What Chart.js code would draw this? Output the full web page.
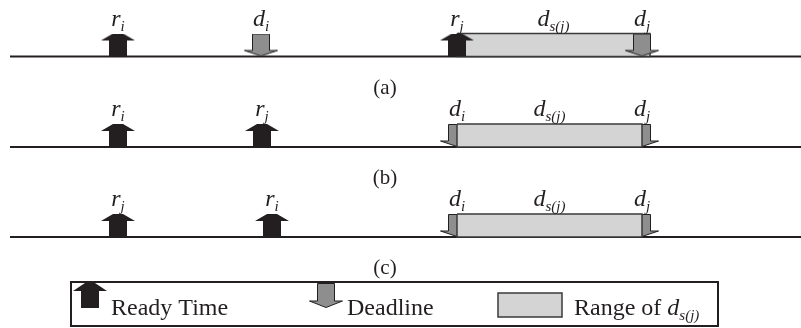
<!DOCTYPE html>
<html><head><meta charset="utf-8">
<script src="https://cdn.jsdelivr.net/npm/chart.js@4.4.0/dist/chart.umd.min.js"></script>
<style>html,body{margin:0;padding:0;background:#fff;overflow:hidden}canvas{display:block}</style>
</head><body>
<canvas id="c" width="801" height="328"></canvas>
<script>
// ---- data (time positions of events on each timeline) ----
const panelLabels = ['(a)', '(b)', '(c)'];
const riTime = [11.8, 11.8, 27.2];
const rjTime = [45.7, 26.2, 11.8];
const diTime = [26.1, 45.7, 45.7];
const djTime = [64.2, 64.2, 64.2];
const rangeStart = [45.7, 45.7, 45.7];
const rangeEnd = [65.0, 64.2, 64.2];
const legendLabels = ['Ready Time', 'Deadline', 'Range of '];

// ---- layout / style ----
const ROW_Y = [5.65, 14.7, 23.7];
const X_MAX = 80.1, Y_MAX = 32.8;
const AXIS_START = 1.0;
const ARROW_H = 2.3;
const INK = '#231f20';
const GRAY = '#8e8e8e';
const LIGHT = '#d4d4d4';
const EDGE = '#3a3a3a';
const SERIF = '"Liberation Serif", "Times New Roman", serif';

function makeArrow(kind, w, h, pad) {
  const c = document.createElement('canvas');
  c.width = w; c.height = pad ? h * 2 : h;
  const g = c.getContext('2d');
  const m = w / 2;
  g.beginPath();
  if (kind === 'up') {
    const hh = Math.round(h * 0.3);
    g.moveTo(m - 5, 0); g.lineTo(m + 5, 0); g.lineTo(w, hh); g.lineTo(m + 9, hh);
    g.lineTo(m + 9, h); g.lineTo(m - 9, h); g.lineTo(m - 9, hh); g.lineTo(0, hh);
    g.closePath(); g.fillStyle = INK; g.fill();
  } else {
    const hy = Math.round(h * 0.72);
    g.moveTo(m - 8.5, 0.5); g.lineTo(m + 8.5, 0.5); g.lineTo(m + 8.5, hy); g.lineTo(w - 0.5, hy);
    g.lineTo(m, h - 0.5); g.lineTo(0.5, hy); g.lineTo(m - 8.5, hy); g.closePath();
    g.fillStyle = GRAY; g.fill(); g.strokeStyle = INK; g.lineWidth = 1; g.stroke();
  }
  return c;
}
const upArrow = makeArrow('up', 34, 23, true);
const downArrow = makeArrow('down', 34, 23, true);
const upIcon = makeArrow('up', 34, 25, false);
const downIcon = makeArrow('down', 34, 25, false);

const datasets = [];
panelLabels.forEach((lab, p) => {
  const yb = ROW_Y[p], yt = ROW_Y[p] - ARROW_H;
  datasets.push({ data: [{x: AXIS_START, y: yb}, {x: X_MAX, y: yb}], borderColor: INK, borderWidth: 2, pointRadius: 0, order: 5 });
  datasets.push({ data: [{x: rangeStart[p], y: yt}, {x: rangeEnd[p], y: yt}, {x: rangeEnd[p], y: yb}, {x: rangeStart[p], y: yb}, {x: rangeStart[p], y: yt}],
    fill: 'shape', backgroundColor: LIGHT, borderColor: EDGE, borderWidth: 1.5, pointRadius: 0, order: p === 0 ? 4 : 1 });
  datasets.push({ data: [{x: riTime[p], y: yb}, {x: rjTime[p], y: yb}], showLine: false, pointStyle: upArrow, pointRadius: 12, order: 2 });
  datasets.push({ data: [{x: diTime[p], y: yb}, {x: djTime[p], y: yb}], showLine: false, pointStyle: downArrow, pointRadius: 12, order: 2 });
});

function drawSubLabel(ctx, x, y, main, sub, size, subSize, align) {
  ctx.font = 'italic ' + size + 'px ' + SERIF;
  const w1 = ctx.measureText(main).width;
  ctx.font = 'italic ' + subSize + 'px ' + SERIF;
  const w2 = ctx.measureText(sub).width;
  const x0 = align === 'left' ? x : x - (w1 + w2) / 2;
  ctx.textAlign = 'left'; ctx.textBaseline = 'alphabetic'; ctx.fillStyle = INK;
  ctx.font = 'italic ' + size + 'px ' + SERIF;
  ctx.fillText(main, x0, y);
  ctx.font = 'italic ' + subSize + 'px ' + SERIF;
  ctx.fillText(sub, x0 + w1, y + Math.round(size * 0.2));
}

const textPlugin = {
  id: 'texts',
  afterDraw(chart) {
    const ctx = chart.ctx, xs = chart.scales.x, ys = chart.scales.y;
    ctx.save();
    panelLabels.forEach((lab, p) => {
      const by = ys.getPixelForValue(ROW_Y[p]);
      const items = [[riTime[p], 'r', 'i'], [rjTime[p], 'r', 'j'], [diTime[p], 'd', 'i'], [djTime[p], 'd', 'j'],
        [(rangeStart[p] + rangeEnd[p]) / 2, 'd', 's(j)']];
      items.forEach(([t, m, s]) => drawSubLabel(ctx, xs.getPixelForValue(t), by - 31, m, s, 24, 15, 'center'));
      ctx.font = '21px ' + SERIF; ctx.textAlign = 'center'; ctx.textBaseline = 'alphabetic'; ctx.fillStyle = INK;
      ctx.fillText(lab, 385, by + 37);
    });
    // legend
    ctx.strokeStyle = INK; ctx.lineWidth = 2;
    ctx.strokeRect(71, 282, 647, 44);
    ctx.drawImage(upIcon, 73, 283);
    ctx.drawImage(downIcon, 309, 283);
    ctx.fillStyle = LIGHT; ctx.fillRect(498, 293, 64, 24);
    ctx.strokeStyle = EDGE; ctx.lineWidth = 1.5; ctx.strokeRect(498, 293, 64, 24);
    ctx.fillStyle = INK; ctx.font = '24px ' + SERIF; ctx.textAlign = 'left'; ctx.textBaseline = 'alphabetic';
    ctx.fillText(legendLabels[0], 111, 315);
    ctx.fillText(legendLabels[1], 347, 315);
    ctx.fillText(legendLabels[2], 574, 315);
    const w = ctx.measureText(legendLabels[2]).width;
    drawSubLabel(ctx, 574 + w, 315, 'd', 's(j)', 24, 15, 'left');
    ctx.restore();
  }
};

new Chart(document.getElementById('c'), {
  type: 'line',
  data: { datasets },
  options: {
    responsive: false, animation: false, devicePixelRatio: 1,
    layout: { padding: 0, autoPadding: false },
    scales: {
      x: { type: 'linear', min: 0, max: X_MAX, display: false },
      y: { type: 'linear', min: 0, max: Y_MAX, reverse: true, display: false }
    },
    plugins: { legend: { display: false }, tooltip: { enabled: false } },
    elements: { line: { tension: 0 } }
  },
  plugins: [textPlugin]
});
</script>
</body></html>
